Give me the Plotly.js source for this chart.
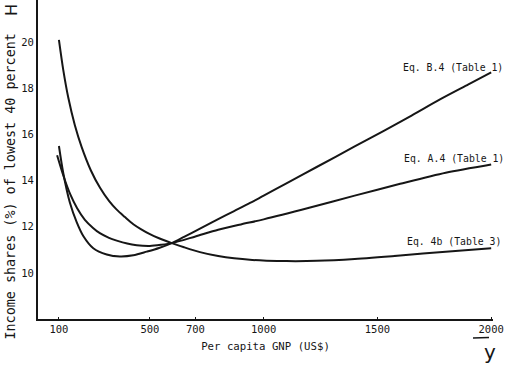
<!DOCTYPE html>
<html>
<head>
<meta charset="utf-8">
<script src="https://cdn.plot.ly/plotly-3.0.1.min.js"></script>
<style>html,body{margin:0;padding:0;background:#fff;}#chart{width:512px;height:365px;}</style>
</head>
<body>
<div id="chart"></div>
<script>
// Eq. 4b (Table 3)
const gnp4b = [100,119,141,170,200,240,280,320,354,390,427,460,500,540,574,596,650,720,800,870,950,1013,1100,1233,1400,1600,1800,2000];
const share4b = [20.1,18.8,17.6,16.4,15.45,14.45,13.7,13.12,12.74,12.42,12.11,11.9,11.68,11.5,11.37,11.29,11.11,10.9,10.73,10.63,10.56,10.53,10.51,10.52,10.6,10.75,10.92,11.07];
// Eq. B.4 (Table 1)
const gnpB4 = [100,119,148,178,207,251,310,368,427,486,540,596,650,720,800,870,940,1000,1100,1233,1400,1526,1650,1775,1900,2000];
const shareB4 = [15.5,14.33,13.05,12.2,11.6,11.07,10.8,10.71,10.76,10.92,11.08,11.29,11.56,11.92,12.33,12.68,13.03,13.35,13.88,14.59,15.48,16.15,16.82,17.52,18.17,18.69];
// Eq. A.4 (Table 1)
const gnpA4 = [92,120,150,180,214,250,280,320,354,400,442,500,550,596,700,800,900,1000,1200,1400,1600,1800,2000];
const shareA4 = [15.1,14.2,13.4,12.8,12.3,11.95,11.72,11.52,11.4,11.27,11.2,11.17,11.22,11.29,11.58,11.87,12.1,12.32,12.82,13.35,13.86,14.34,14.7];

const xTickVals = [100,500,700,1000,1500,2000];
const xTickText = ['100','500','700','1000','1500','2000'];
const yTickVals = [10,12,14,16,18,20];
const seriesNames = ['Eq. B.4 (Table 1)','Eq. A.4 (Table 1)','Eq. 4b (Table 3)'];

const ink = '#161616';
const mono = '"DejaVu Sans Mono", "Liberation Mono", monospace';
const lineStyle = {color: ink, width: 2, shape: 'spline', smoothing: 0.8};

const traces = [
  {x: gnpB4, y: shareB4, name: seriesNames[0], mode: 'lines', line: lineStyle},
  {x: gnpA4, y: shareA4, name: seriesNames[1], mode: 'lines', line: lineStyle},
  {x: gnp4b, y: share4b, name: seriesNames[2], mode: 'lines', line: lineStyle}
];

const W = 512, H = 365, ml = 38, mr = 19, mt = 0, mb = 46;
const pw = W - ml - mr, ph = H - mt - mb;
const px = v => (v - ml) / pw;
const py = v => (ph + mt - v) / ph;

const layout = {
  width: W, height: H,
  margin: {l: ml, r: mr, t: mt, b: mb, pad: 0},
  paper_bgcolor: '#fff', plot_bgcolor: '#fff',
  showlegend: false,
  font: {family: mono, color: ink, size: 10.5},
  xaxis: {
    range: [8, 2008], showgrid: false, zeroline: false,
    showline: true, linecolor: ink, linewidth: 1.5,
    tickmode: 'array', tickvals: xTickVals, ticktext: xTickText,
    ticks: 'inside', ticklen: 2, tickcolor: ink,
    tickfont: {family: mono, size: 10.5, color: ink},
    title: {text: 'Per capita GNP (US$)', font: {family: mono, size: 10.7, color: ink}, standoff: 8}
  },
  yaxis: {
    range: [8.0, 21.83], showgrid: false, zeroline: false,
    showline: true, linecolor: ink, linewidth: 2,
    tickmode: 'array', tickvals: yTickVals,
    ticks: '',
    tickfont: {family: mono, size: 10.5, color: ink}
  },
  annotations: [
    {xref: 'paper', yref: 'paper', x: px(9.5), y: py(187), text: 'Income shares (%) of lowest 40 percent',
     textangle: -90, showarrow: false, font: {family: mono, size: 13.4, color: ink}, xanchor: 'center', yanchor: 'middle'},
    {xref: 'paper', yref: 'paper', x: px(505), y: py(67), text: seriesNames[0], showarrow: false,
     xanchor: 'right', yanchor: 'middle', font: {family: mono, size: 9.8, color: ink}},
    {xref: 'paper', yref: 'paper', x: px(506), y: py(158), text: seriesNames[1], showarrow: false,
     xanchor: 'right', yanchor: 'middle', font: {family: mono, size: 9.8, color: ink}},
    {xref: 'paper', yref: 'paper', x: px(503), y: py(241), text: seriesNames[2], showarrow: false,
     xanchor: 'right', yanchor: 'middle', font: {family: mono, size: 9.8, color: ink}},
    {xref: 'paper', yref: 'paper', x: px(11), y: py(10), text: 'H', textangle: -90, showarrow: false,
     xanchor: 'center', yanchor: 'middle', font: {family: '"DejaVu Sans"', size: 16, color: ink}},
    {xref: 'paper', yref: 'paper', x: px(490), y: py(352), text: 'y', showarrow: false,
     xanchor: 'center', yanchor: 'middle', font: {family: '"DejaVu Sans"', size: 20, color: ink}}
  ],
  shapes: [
    {type: 'line', xref: 'paper', yref: 'paper', x0: px(473), x1: px(489), y0: py(338), y1: py(337.5),
     line: {color: ink, width: 1.5}}
  ]
};

Plotly.newPlot('chart', traces, layout, {staticPlot: true, displayModeBar: false});
</script>
</body>
</html>
